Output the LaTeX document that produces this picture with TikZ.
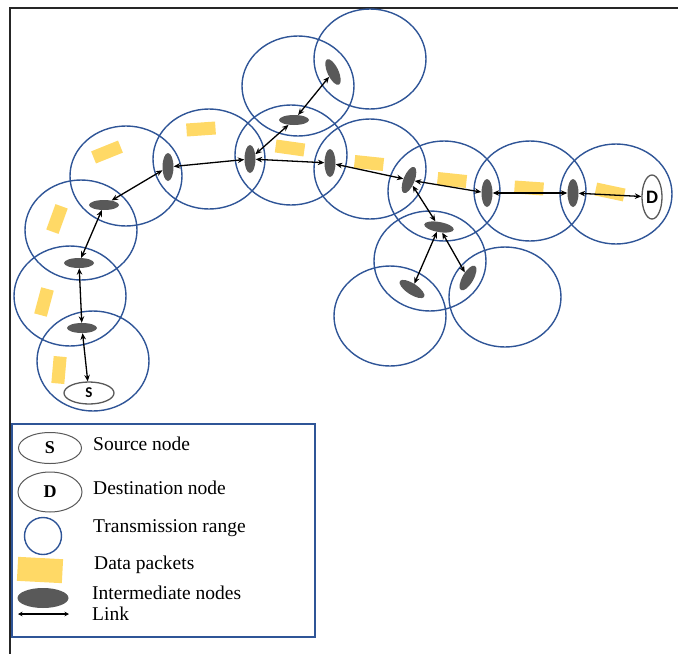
\documentclass[tikz,border=0pt]{standalone}
\usepackage{fontspec}
\setmainfont{Liberation Serif}
\newfontfamily\labelfont{Carlito}
\usetikzlibrary{shapes.geometric,arrows.meta}

\definecolor{rangeblue}{RGB}{47,85,151}
\definecolor{nodegray}{RGB}{89,89,89}
\definecolor{packetyellow}{RGB}{255,217,102}

\begin{document}
\begin{tikzpicture}[x=1pt, y=-1pt,
    txrange/.style={ellipse, draw=rangeblue, line width=1.4pt, minimum width=112pt, minimum height=100pt, inner sep=0pt},
    hop/.style={ellipse, fill=nodegray, inner sep=0pt, minimum width=11pt, minimum height=28pt},
    flathop/.style={hop, minimum width=30pt, minimum height=10pt},
    packet/.style={rectangle, fill=packetyellow, inner sep=0pt, minimum width=13pt, minimum height=27pt},
    widepacket/.style={packet, minimum width=29pt, minimum height=13pt},
    endnode/.style={ellipse, draw=black!65, line width=1.3pt, inner sep=0pt},
    link/.style={{Stealth[length=6.5pt,width=5.5pt]}-{Stealth[length=6.5pt,width=5.5pt]}, line width=1.3pt},
    legendtext/.style={anchor=west, inner sep=0pt, font=\fontsize{19.5}{22}\selectfont}]
    \useasboundingbox (0,0) rectangle (678,654);
    \draw[line width=1.6pt, black!85] (678,8) -- (10,8) -- (10,654);

    % Define transmission ranges
    \node[txrange] (r1) at (93,361) {};
    \node[txrange] (r2) at (70,296) {};
    \node[txrange] (r3) at (81,230) {};
    \node[txrange] (r4) at (126,176) {};
    \node[txrange] (r5) at (209,159) {};
    \node[txrange] (r6) at (291,155) {};
    \node[txrange] (r7) at (298,86) {};
    \node[txrange] (r8) at (370,59) {};
    \node[txrange] (r9) at (370,169) {};
    \node[txrange] (r10) at (444,191) {};
    \node[txrange] (r11) at (530,191) {};
    \node[txrange] (r12) at (616,194) {};
    \node[txrange] (r13) at (430,261) {};
    \node[txrange] (r14) at (390,316) {};
    \node[txrange] (r15) at (505,297) {};

    % Define data packets
    \node[packet, rotate=-5] (p1) at (59,370) {};
    \node[packet, rotate=-15] (p2) at (44,302) {};
    \node[packet, rotate=-20] (p3) at (57,219) {};
    \node[widepacket, rotate=22] (p4) at (107,152) {};
    \node[widepacket, rotate=4] (p5) at (201,129) {};
    \node[widepacket, rotate=-8] (p6) at (290,148) {};
    \node[widepacket, rotate=-6] (p7) at (369,163) {};
    \node[widepacket, rotate=-6] (p8) at (452,180) {};
    \node[widepacket, rotate=-4] (p9) at (529,188) {};
    \node[widepacket, rotate=-12] (p10) at (610,192) {};

    % Define vertices
    \node[endnode, minimum width=50pt, minimum height=22pt, font=\labelfont\bfseries\fontsize{15}{15}\selectfont] (S) at (89,393) {S};
    \node[flathop] (n1) at (82,328) {};
    \node[flathop] (n2) at (79,263) {};
    \node[flathop] (n3) at (104,205) {};
    \node[hop] (n4) at (168,167) {};
    \node[hop] (n5) at (250,159) {};
    \node[flathop] (n6) at (294,120) {};
    \node[hop, rotate=25] (n7) at (333,72) {};
    \node[hop] (n8) at (330,163) {};
    \node[hop, rotate=-22] (n9) at (409,180) {};
    \node[hop] (n10) at (487,193) {};
    \node[hop] (n11) at (573,193) {};
    \node[endnode, minimum width=20pt, minimum height=44pt, font=\labelfont\bfseries\fontsize{19}{19}\selectfont] (D) at (652,197) {\raisebox{-6pt}{D}};
    \node[flathop, rotate=-10] (n12) at (439,227) {};
    \node[flathop, minimum width=29pt, minimum height=11pt, rotate=-33] (n13) at (412,289) {};
    \node[hop, rotate=-30] (n14) at (468,278) {};

    % Draw edges with arrows
    \draw[link] (S) -- (n1);
    \draw[link] (n1) -- (n2);
    \draw[link] (n2) -- (n3);
    \draw[link] (n3) -- (n4);
    \draw[link] (n4) -- (n5);
    \draw[link] (n5) -- (n6);
    \draw[link] (n6) -- (n7);
    \draw[link] (n5) -- (n8);
    \draw[link] (n8) -- (n9);
    \draw[link] (n9) -- (n10);
    \draw[link] (n10) -- (n11);
    \draw[link] (n11) -- (D);
    \draw[link] (n9) -- (n12);
    \draw[link] (n12) -- (n13);
    \draw[link] (n12) -- (n14);

    % Legend
    \draw[rangeblue, line width=1.2pt] (12,424) rectangle (315,637);
    \node[endnode, line width=1pt, minimum width=63pt, minimum height=31pt, font=\bfseries\fontsize{18}{18}\selectfont] (legS) at (50,448) {S};
    \node[endnode, line width=1pt, minimum width=64pt, minimum height=40pt, font=\bfseries\fontsize{18}{18}\selectfont] (legD) at (50,492) {D};
    \node[txrange, minimum width=37pt, minimum height=37pt] (legR) at (43,536) {};
    \node[packet, minimum width=45pt, minimum height=24pt, rotate=-3] (legP) at (40,570) {};
    \node[flathop, minimum width=51pt, minimum height=20pt] (legI) at (43,598) {};
    \coordinate (legA) at (18,614);
    \coordinate (legB) at (69,614);
    \draw[{Stealth[length=4.5pt,width=4.5pt]}-{Stealth[length=4.5pt,width=4.5pt]}, line width=1.1pt] (legA) -- (legB);

    \node[legendtext] (tS) at (93,444) {Source node};
    \node[legendtext] (tD) at (93,488) {Destination node};
    \node[legendtext] (tR) at (93,528) {Transmission range};
    \node[legendtext] (tP) at (94,565) {Data packets};
    \node[legendtext] (tI) at (92,593) {Intermediate nodes};
    \node[legendtext] (tL) at (92,614) {Link};
\end{tikzpicture}
\end{document}
